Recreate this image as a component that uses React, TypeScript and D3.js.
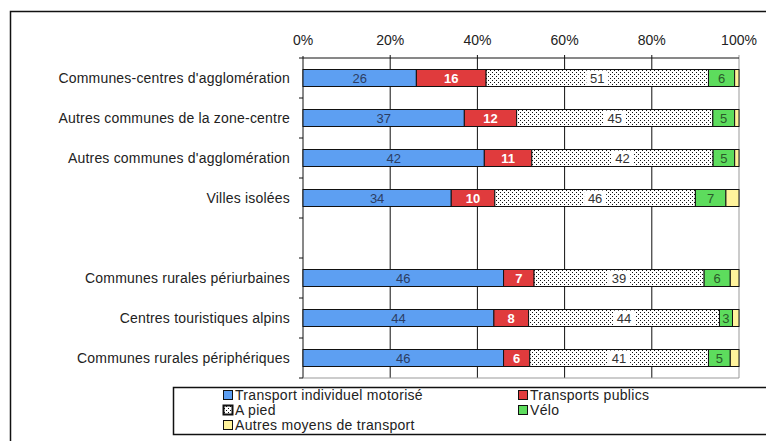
import React from "react";
import * as d3 from "d3";

const categories = [
  "Communes-centres d'agglomération",
  "Autres communes de la zone-centre",
  "Autres communes d'agglomération",
  "Villes isolées",
  "",
  "Communes rurales périurbaines",
  "Centres touristiques alpins",
  "Communes rurales périphériques",
];
const seriesNames = [
  "Transport individuel motorisé",
  "Transports publics",
  "A pied",
  "Vélo",
  "Autres moyens de transport",
];
const tim = [26, 37, 42, 34, null, 46, 44, 46];
const tp = [16, 12, 11, 10, null, 7, 8, 6];
const pied = [51, 45, 42, 46, null, 39, 44, 41];
const velo = [6, 5, 5, 7, null, 6, 3, 5];
const autres = [1, 1, 1, 3, null, 2, 1.5, 2];
const xTicks = [0, 0.2, 0.4, 0.6, 0.8, 1];

const fills = ["#5d9ff2", "#e03b3d", "url(#dots)", "#5ddc5d", "#fff39c"];
const labelColors = ["#2c3d63", "#ffffff", "#333333", "#2a5a2a", "#333"];

export default function App() {
  const W = 766, H = 441;
  const x = d3.scaleLinear().domain([0, 1]).range([303, 739]);
  const idx = categories.map((_, i) => i);
  const y = d3.scaleBand<number>().domain(idx).range([58, 378]).paddingInner(0.575).paddingOuter(0.2875);
  const rows = idx
    .filter((i) => tim[i] !== null)
    .map((i) => ({ i, v: [tim[i], tp[i], pied[i], velo[i], autres[i]] as number[] }));
  const keys = [0, 1, 2, 3, 4];
  const stack = d3
    .stack<{ i: number; v: number[] }, number>()
    .keys(keys)
    .value((d, k) => d.v[k])
    .offset(d3.stackOffsetExpand);
  const stacked = stack(rows);
  const font = "'Liberation Sans', Arial, Helvetica, sans-serif";
  const step = y.step();
  const boundaries = d3.range(categories.length + 1).map((k) => 58 + k * step);

  const legend = [
    { s: 0, x: 223, y: 395 },
    { s: 1, x: 518, y: 395 },
    { s: 2, x: 223, y: 410 },
    { s: 3, x: 518, y: 410 },
    { s: 4, x: 223, y: 425 },
  ];

  return (
    <svg width={W} height={H} style={{ position: "absolute", left: 0, top: 0, background: "#fff" }} fontFamily={font}>
      <defs>
        <pattern id="dots" width={4} height={4} patternUnits="userSpaceOnUse">
          <rect width={4} height={4} fill="#fff" />
          <rect x={0} y={0} width={1} height={1} fill="#111" />
          <rect x={2} y={2} width={1} height={1} fill="#111" />
        </pattern>
      </defs>
      <rect x={0} y={0} width={W} height={H} fill="#fff" />
      <rect x={10.5} y={11.5} width={800} height={500} fill="none" stroke="#111" strokeWidth={1.5} />

      {/* grid lines */}
      {xTicks.map((t) => (
        <line key={t} x1={x(t)} x2={x(t)} y1={t === 0 ? 56 : 55} y2={378} stroke={t === 1 ? "#999" : "#111"} strokeWidth={1} />
      ))}
      <line x1={x(0)} x2={x(1)} y1={58} y2={58} stroke="#111" />
      <line x1={x(0)} x2={x(1)} y1={378} y2={378} stroke="#999" />
      {boundaries.map((b, k) => (
        <line key={k} x1={299} x2={303} y1={b} y2={b} stroke="#111" />
      ))}
      {xTicks.map((t) => (
        <text key={t} x={x(t)} y={45} textAnchor="middle" fontSize={14} fill="#222">
          {d3.format(".0%")(t)}
        </text>
      ))}
      {categories.map((c, i) => (
        <text key={i} x={290} y={(y(i) as number) + y.bandwidth() / 2 + 5} textAnchor="end" fontSize={14} letterSpacing={0.2} fill="#222">
          {c}
        </text>
      ))}

      {stacked.map((layer, k) => (
        <g key={k}>
          {layer.map((d, j) => {
            const row = rows[j];
            const x0 = x(d[0]), x1 = x(d[1]);
            const yy = y(row.i) as number;
            const bw = y.bandwidth();
            const cx = (x0 + x1) / 2;
            const val = row.v[k];
            return (
              <g key={j}>
                <rect x={x0} y={yy} width={x1 - x0} height={bw} fill={fills[k]} stroke="#111" strokeWidth={1} />
                {k < 4 && (
                  <g>
                    {k === 2 && <rect x={cx - 11} y={yy + 1} width={22} height={bw - 2} fill="#fff" />}
                    <text x={cx} y={yy + bw / 2 + 4.5} textAnchor="middle" fontSize={13}
                      fontWeight={k === 1 ? "bold" : "normal"} fill={labelColors[k]}>
                      {Math.round(val)}
                    </text>
                  </g>
                )}
              </g>
            );
          })}
        </g>
      ))}

      {/* legend */}
      <rect x={173.5} y={387.5} width={700} height={47} fill="#fff" stroke="#111" strokeWidth={1.5} />
      {legend.map((l) => (
        <g key={l.s}>
          <rect x={l.x + 0.5} y={l.y - 4.5} width={9} height={9} fill={fills[l.s]} stroke="#111" strokeWidth={l.s === 2 ? 2 : 1} />
          <text x={l.x + 12} y={l.y + 5} fontSize={14} letterSpacing={0.3} fill="#222">{seriesNames[l.s]}</text>
        </g>
      ))}
    </svg>
  );
}
